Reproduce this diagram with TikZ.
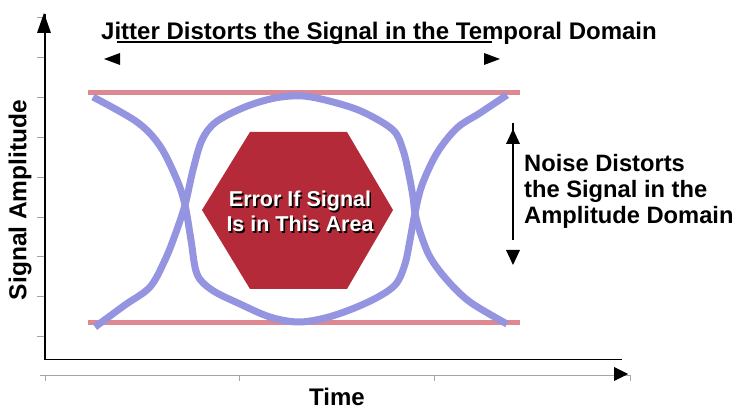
\documentclass[tikz,border=0pt]{standalone}
\usepackage{fontspec}
\setmainfont{Liberation Sans}
\definecolor{eyeblue}{RGB}{148,148,224}
\definecolor{bandred}{RGB}{222,136,146}
\definecolor{hexred}{RGB}{181,42,56}
\definecolor{tickgray}{RGB}{165,165,165}
\newcommand{\shadowtext}[1]{\makebox[0pt][l]{\hspace{1.6pt}\raisebox{-1.6pt}{\textcolor{black}{#1}}}#1}
\begin{document}
\begin{tikzpicture}[x=1pt,y=-1pt,
  lbl/.style={font=\bfseries\fontsize{24}{28}\selectfont, inner sep=0pt},
  hexlbl/.style={font=\bfseries\fontsize{21.5}{25}\selectfont, inner sep=0pt, anchor=base, text=white},
  eyeline/.style={draw=eyeblue, line width=7pt},
  band/.style={draw=bandred, line width=5pt},
  axisline/.style={draw=black, line width=1.8pt},
  tickline/.style={draw=tickgray, line width=0.9pt},
  headfill/.style={fill=black}]
\useasboundingbox (0,0) rectangle (737,411);

% gray secondary axis and ticks
\coordinate (gs) at (40,375);
\coordinate (ge) at (630,375);
\draw[tickline] (gs) -- (ge);
\foreach \xx in {45,239,434,630} {\draw[tickline] (\xx,375) -- (\xx,381);}
\foreach \yy in {17,57,97,137,177,217,256,296,336} {\draw[tickline] (37,\yy) -- (45,\yy);}
\fill[headfill] (628,374) -- (614,367) -- (614,381) -- cycle;

% main axes
\coordinate (origin) at (45,359.5);
\coordinate (ytop) at (45,14);
\coordinate (xend) at (622,359.5);
\draw[axisline] (ytop) -- (origin) -- (xend);
\fill[headfill] (44,13) -- (37,33) -- (51,33) -- cycle;

% red bands
\coordinate (bt1) at (88,93);
\coordinate (bt2) at (520,93);
\coordinate (bb1) at (88,323);
\coordinate (bb2) at (520,323);
\draw[band] (bt1) -- (bt2);
\draw[band] (bb1) -- (bb2);

% eye curves
\draw[eyeline] plot[smooth, tension=0.55] coordinates {
 (93,97) (137,122) (160,146) (177,180) (185,205) (191,240) (197,274) (212,290)
 (240,304) (270,317) (298,322) (325,318) (352,309) (378,297) (396,284) (405,264)
 (410,240) (415,213) (422,185) (437,153) (457,128) (480,113) (507,95)};
\draw[eyeline] plot[smooth, tension=0.55] coordinates {
 (95,327) (125,305) (150,287) (165,260) (175,235) (185,205) (193,170) (202,140)
 (216,122) (245,107) (275,98) (303,96) (333,102) (363,112) (393,130) (403,150)
 (409,175) (413,197) (415,213) (420,232) (430,257) (447,280) (470,302) (507,324)};

% hexagon
\coordinate (h1) at (250,132);
\coordinate (h2) at (347,132);
\coordinate (h3) at (393,210);
\coordinate (h4) at (347,289);
\coordinate (h5) at (250,289);
\coordinate (h6) at (202,210);
\fill[hexred] (h1) -- (h2) -- (h3) -- (h4) -- (h5) -- (h6) -- cycle;
\node[hexlbl] (e1) at (300,207) {\shadowtext{Error If Signal}};
\node[hexlbl] (e2) at (300,232) {\shadowtext{Is in This Area}};

% jitter arrow and title
\coordinate (jl) at (117,42);
\coordinate (jr) at (492,42);
\draw[axisline] (jl) -- (jr);
\fill[headfill] (104,59) -- (120,53) -- (120,65) -- cycle;
\fill[headfill] (500,59) -- (484,53) -- (484,65) -- cycle;
\node[lbl, anchor=base] (title) at (379,40) {Jitter Distorts the Signal in the Temporal Domain};

% noise arrow and label
\coordinate (nt) at (513,123);
\coordinate (nb) at (513,240);
\draw[axisline] (nt) -- (nb);
\fill[headfill] (513,129) -- (506,144) -- (520,144) -- cycle;
\fill[headfill] (513,265) -- (506,250) -- (520,250) -- cycle;
\node[lbl, font=\bfseries\fontsize{23.7}{26}\selectfont, anchor=base west] (r1) at (524,172) {Noise Distorts};
\node[lbl, font=\bfseries\fontsize{23.7}{26}\selectfont, anchor=base west] (r2) at (524,198) {the Signal in the};
\node[lbl, font=\bfseries\fontsize{23.7}{26}\selectfont, anchor=base west] (r3) at (524,224) {Amplitude Domain};

% axis labels
\node[lbl, font=\bfseries\fontsize{24.5}{28}\selectfont, rotate=90] (ylab) at (20,200) {Signal Amplitude};
\node[lbl, anchor=base] (xlab) at (337,406) {Time};
\end{tikzpicture}
\end{document}
